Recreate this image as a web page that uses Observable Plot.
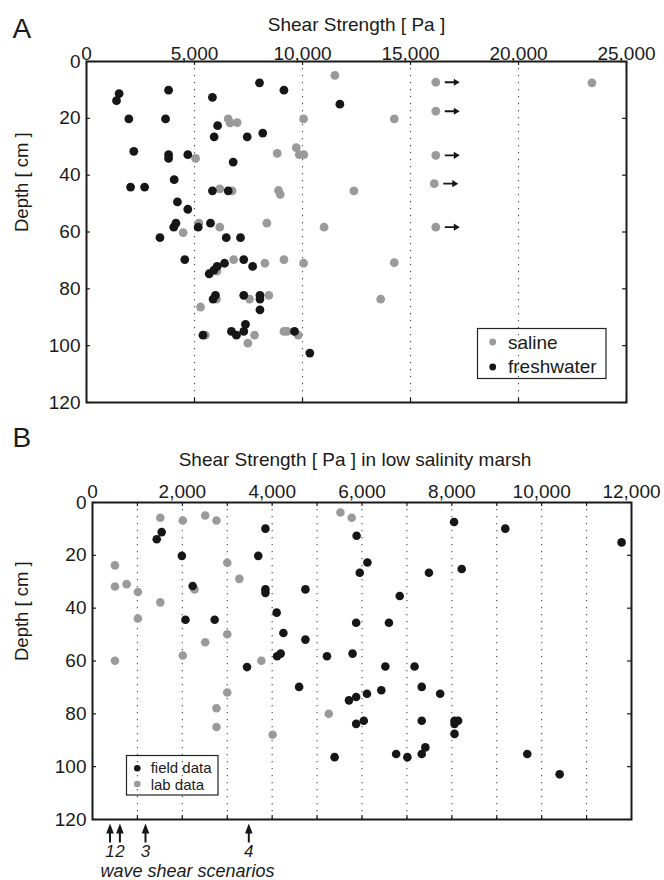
<!DOCTYPE html>
<html><head><meta charset="utf-8">
<script src="https://cdn.jsdelivr.net/npm/d3@7"></script>
<script src="https://cdn.jsdelivr.net/npm/@observablehq/plot@0.6"></script>
<style>
body{margin:0;background:#fff;font-family:"Liberation Sans",Arial,Helvetica,sans-serif;}
#wrap{position:relative;width:664px;height:880px;overflow:hidden;}
#wrap > svg{display:block;}
#overlay{position:absolute;left:0;top:0;pointer-events:none;}
</style></head>
<body><div id="wrap"></div>
<script>
// ---------- Panel A data ----------
const salineShear = [11500,6560,6650,6975,10050,14250,16170,16170,16170,16100,16170,23400,5050,8830,9710,9850,10060,6170,6740,8890,8970,12380,5200,6170,8350,11000,4475,6810,8260,9140,10050,14250,6030,6020,7550,8440,13620,5280,5500,7780,7470,9140,9290,9800];
const salineDepth = [4.9,20.2,21.6,21.5,20.2,20.2,7.3,17.5,33.0,43.0,58.3,7.5,34.1,32.3,30.3,32.8,32.8,44.8,45.5,45.4,46.8,45.5,56.9,58.3,56.9,58.3,60.2,69.7,71.0,69.7,71.0,70.8,73.8,83.6,83.6,82.3,83.6,86.4,96.3,96.3,99.1,95.0,95.0,96.3];
// 1 = value beyond the measuring range (drawn with an arrow)
const salineBeyond = [0,0,0,0,0,0,1,1,1,1,1,0,0,0,0,0,0,0,0,0,0,0,0,0,0,0,0,0,0,0,0,0,0,0,0,0,0,0,0,0,0,0,0,0];
const freshShear = [8010,3800,9140,1510,5830,1390,11730,1960,3660,6070,5910,7440,8160,2190,3800,3800,4690,6790,4060,2040,2690,5830,6560,4210,4690,4140,4040,5740,5170,3400,6470,7130,4550,7280,6390,6050,5900,5680,7690,5970,5860,7280,8030,8030,8030,7360,5390,6710,6940,7280,9630,10340];
const freshDepth = [7.5,10.1,10.1,11.3,12.6,13.8,15.0,20.2,20.2,22.6,26.5,26.5,25.2,31.6,32.8,34.1,32.8,35.4,41.6,44.2,44.2,45.5,45.5,49.4,52.0,56.9,58.3,56.9,58.3,62.0,62.0,62.0,69.7,69.7,71.0,72.1,73.4,74.7,72.1,82.3,83.6,82.3,82.3,83.6,87.4,92.5,96.3,95.0,96.3,95.0,95.0,102.6];
const xTicksA = [0,5000,10000,15000,20000,25000];
const gridA = [5000,10000,15000,20000];
const depthTicks = [0,20,40,60,80,100,120];
const legendA = ["saline","freshwater"];

// ---------- Panel B data ----------
const labShear = [1510,2010,2510,2760,5520,5770,500,3000,3270,500,760,1010,2270,1510,1010,3000,2510,2010,500,3760,3000,2760,2760,5260,4010];
const labDepth = [5.8,6.8,4.9,6.8,3.8,5.8,23.8,22.8,28.9,31.8,30.9,33.9,32.9,37.8,43.9,49.9,52.9,57.9,59.9,59.9,71.9,77.9,85.0,80.0,87.9];
const fieldShear = [3850,1540,1430,1990,3690,2230,3850,3850,4740,4100,2070,2720,5870,6600,8050,9190,11780,5880,6120,5950,7490,8220,6840,4250,4740,4110,4190,3440,5220,5790,6520,7170,4600,5710,5870,6110,6430,7330,7740,5870,6040,7330,8060,8140,8060,8060,7410,6760,7010,7330,5390,9680,10400];
const fieldDepth = [9.9,11.2,13.9,20.2,20.2,31.6,32.9,34.2,32.9,41.7,44.4,44.4,45.5,45.5,7.4,9.9,15.1,12.6,22.7,26.6,26.6,25.2,35.4,49.4,51.9,58.2,57.2,62.3,58.2,57.2,62.1,62.1,69.8,74.9,73.6,72.4,71.1,69.8,72.4,83.8,82.6,82.6,82.6,82.6,83.8,87.6,92.7,95.2,96.4,95.2,96.4,95.2,102.9];
const xTicksB = [0,2000,4000,6000,8000,10000,12000];
const gridB = [1000,2000,3000,4000,5000,6000,7000,8000,9000,10000,11000];
const scenarioShear = [390,610,1180,3480];
const scenarioLabel = ["1","2","3","4"];
const legendB = ["field data","lab data"];

const GRAY = "#9a9a9a", BLACK = "#161616", INK = "#1a1a1a";
const FONT = '"Liberation Sans", Arial, Helvetica, sans-serif';

const saline = salineShear.map((x,i)=>({x, y: salineDepth[i], beyond: salineBeyond[i]}));
const fresh = freshShear.map((x,i)=>({x, y: freshDepth[i]}));
const lab = labShear.map((x,i)=>({x, y: labDepth[i]}));
const field = fieldShear.map((x,i)=>({x, y: fieldDepth[i]}));
const scenarios = scenarioShear.map((x,i)=>({x, label: scenarioLabel[i]}));

const rightArrow = {draw(c){ c.moveTo(9,-0.9); c.lineTo(18,-0.9); c.lineTo(18,-3.6); c.lineTo(24,0); c.lineTo(18,3.6); c.lineTo(18,0.9); c.lineTo(9,0.9); c.closePath(); }};
const upArrow = {draw(c){ c.moveTo(0,0); c.lineTo(3.8,10); c.lineTo(1,10); c.lineTo(1,19); c.lineTo(-1,19); c.lineTo(-1,10); c.lineTo(-3.8,10); c.closePath(); }};

const fmt = d3.format(",");
const dotted = {stroke: INK, strokeWidth: 1.1, strokeDasharray: "1.3,5.7", strokeOpacity: 0.8};

// ---------- Panel A ----------
const hA = 420, mtA = 61, mbA = 18, mlA = 86, mrA = 38;
const ihA = hA - mtA - mbA, iwA = 664 - mlA - mrA;
const plotA = Plot.plot({
  width: 664, height: hA,
  marginTop: mtA, marginBottom: mbA, marginLeft: mlA, marginRight: mrA,
  style: {fontFamily: FONT, fontSize: "19px", color: INK, background: "transparent", overflow: "visible"},
  x: {domain: [0, 25000]},
  y: {domain: [0, 120], reverse: true},
  marks: [
    Plot.gridX(gridA, dotted),
    Plot.ruleX(xTicksA, {insetBottom: ihA - 4, stroke: INK, strokeWidth: 1.2}),
    Plot.ruleX(xTicksA, {insetTop: ihA - 4, stroke: INK, strokeWidth: 1.2}),
    Plot.ruleY(depthTicks, {insetRight: iwA - 4, stroke: INK, strokeWidth: 1.2}),
    Plot.ruleY(depthTicks, {insetLeft: iwA - 4, stroke: INK, strokeWidth: 1.2}),
    Plot.axisX(xTicksA, {anchor: "top", tickSize: 0, tickPadding: 2, tickFormat: fmt, label: null, fontSize: 19}),
    Plot.axisY(depthTicks, {anchor: "left", tickSize: 0, tickPadding: 6, label: null, fontSize: 19}),
    Plot.dot(saline, {x: "x", y: "y", r: 4.4, fill: GRAY, stroke: "none"}),
    Plot.dot(fresh, {x: "x", y: "y", r: 4.4, fill: BLACK, stroke: "none"}),
    Plot.dot(saline.filter(d => d.beyond), {x: "x", y: "y", symbol: rightArrow, fill: BLACK, stroke: "none"}),
    Plot.frame({stroke: INK, strokeWidth: 2}),
    Plot.text(["Shear Strength [ Pa ]"], {frameAnchor: "top", dy: -31, lineAnchor: "bottom", fontSize: 19, fill: INK}),
    Plot.text(["A"], {frameAnchor: "top-left", dx: -74, dy: -24, textAnchor: "start", lineAnchor: "bottom", fontSize: 28, fill: INK}),
    Plot.text(["Depth [ cm ]"], {frameAnchor: "left", dx: -64, rotate: -90, fontSize: 18.5, fill: INK})
  ]
});

// ---------- Panel B ----------
const hB = 460, mtB = 82, mbB = 61, mlB = 92, mrB = 33;
const ihB = hB - mtB - mbB, iwB = 664 - mlB - mrB;
const plotB = Plot.plot({
  width: 664, height: hB,
  marginTop: mtB, marginBottom: mbB, marginLeft: mlB, marginRight: mrB,
  style: {fontFamily: FONT, fontSize: "19px", color: INK, background: "transparent", overflow: "visible"},
  x: {domain: [0, 12000]},
  y: {domain: [0, 120], reverse: true},
  marks: [
    Plot.gridX(gridB, dotted),
    Plot.ruleX(gridB, {insetBottom: ihB - 4, stroke: INK, strokeWidth: 1.2}),
    Plot.ruleX(gridB, {insetTop: ihB - 4, stroke: INK, strokeWidth: 1.2}),
    Plot.ruleY(depthTicks, {insetRight: iwB - 4, stroke: INK, strokeWidth: 1.2}),
    Plot.ruleY(depthTicks, {insetLeft: iwB - 4, stroke: INK, strokeWidth: 1.2}),
    Plot.axisX(xTicksB, {anchor: "top", tickSize: 0, tickPadding: 5, tickFormat: fmt, label: null, fontSize: 19}),
    Plot.axisY(depthTicks, {anchor: "left", tickSize: 0, tickPadding: 6, label: null, fontSize: 19}),
    Plot.dot(lab, {x: "x", y: "y", r: 4.3, fill: GRAY, stroke: "none"}),
    Plot.dot(field, {x: "x", y: "y", r: 4.3, fill: BLACK, stroke: "none"}),
    Plot.frame({stroke: INK, strokeWidth: 2}),
    Plot.dot(scenarios, {x: "x", frameAnchor: "bottom", dy: 4, symbol: upArrow, fill: BLACK, stroke: "none"}),
    Plot.text(scenarios, {x: "x", text: "label", frameAnchor: "bottom", dy: 37, lineAnchor: "bottom", fontStyle: "italic", fontSize: 17, fill: INK}),
    Plot.text(["wave shear scenarios"], {frameAnchor: "bottom-left", dx: 8, dy: 57.5, textAnchor: "start", lineAnchor: "bottom", fontStyle: "italic", fontSize: 18, fill: INK}),
    Plot.text(["Shear Strength [ Pa ] in low salinity marsh"], {frameAnchor: "top", dx: -7, dy: -37, lineAnchor: "bottom", fontSize: 19, fill: INK}),
    Plot.text(["B"], {frameAnchor: "top-left", dx: -80, dy: -55.7, textAnchor: "start", lineAnchor: "bottom", fontSize: 28, fill: INK}),
    Plot.text(["Depth [ cm ]"], {frameAnchor: "left", dx: -70, rotate: -90, fontSize: 18.5, fill: INK})
  ]
});

const wrap = document.getElementById("wrap");
wrap.appendChild(plotA);
wrap.appendChild(plotB);

// ---------- Legends (overlay, transparent background) ----------
const ov = d3.select(wrap).append("svg").attr("id","overlay").attr("width",664).attr("height",880)
  .style("font-family", FONT).attr("fill", INK);
function legend(x, y, w, h, items, colors, dotX, rows, textX, baselines, fs, r){
  ov.append("rect").attr("x",x).attr("y",y).attr("width",w).attr("height",h)
    .attr("fill","none").attr("stroke","#222").attr("stroke-width",1.2);
  items.forEach((t,i)=>{
    ov.append("circle").attr("cx",dotX).attr("cy",rows[i]).attr("r",r).attr("fill",colors[i]);
    ov.append("text").attr("x",textX).attr("y",baselines[i]).attr("font-size",fs).text(t);
  });
}
legend(477.5, 328.5, 128.5, 50, legendA, [GRAY, BLACK], 492.7, [342, 367], 508, [349, 372.6], 19, 3.4);
legend(126.5, 755.5, 91.5, 39.5, legendB, [BLACK, GRAY], 137.3, [768.3, 784], 150.7, [773, 790], 15, 3.3);
</script>
</body></html>
